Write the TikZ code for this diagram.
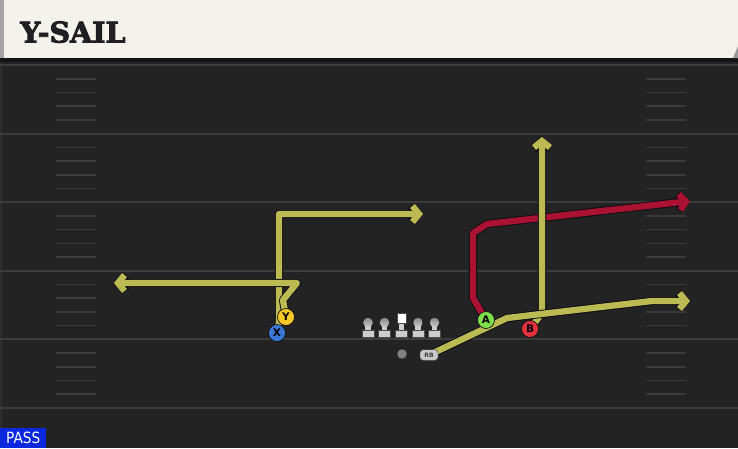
\documentclass[tikz,border=0pt]{standalone}
\usepackage{fontspec}
\setmainfont{DejaVuSans.ttf}[BoldFont=DejaVuSans-Bold.ttf]
\newfontfamily\titlefont{DejaVuSerif-Bold.ttf}[FakeBold=3]
\newfontfamily\passfont{DejaVuSans.ttf}[FakeStretch=0.88]
\newfontfamily\btnfont{DejaVuSans-Bold.ttf}
\usetikzlibrary{arrows.meta}
\pgfdeclarelayer{field}
\pgfdeclarelayer{routes}
\pgfsetlayers{field,routes,main}
\definecolor{fieldbg}{RGB}{35,35,35}
\definecolor{yardline}{RGB}{60,60,60}
\definecolor{hashcol}{RGB}{58,58,58}
\definecolor{headerbg}{RGB}{244,242,236}
\definecolor{headerstrip}{RGB}{165,165,165}
\definecolor{headerband}{RGB}{20,20,20}
\definecolor{routey}{RGB}{188,186,82}
\definecolor{router}{RGB}{170,18,50}
\definecolor{routeedge}{RGB}{12,12,18}
\definecolor{btnY}{RGB}{246,200,40}
\definecolor{btnX}{RGB}{58,120,215}
\definecolor{btnA}{RGB}{125,222,75}
\definecolor{btnB}{RGB}{225,50,60}
\definecolor{passblue}{RGB}{12,40,222}
\definecolor{linegray}{RGB}{205,205,205}
\definecolor{headgray}{RGB}{135,135,135}
\begin{document}
\begin{tikzpicture}[x=1pt,y=-1pt,
  route/.style={line width=6.3pt, line join=round,
    preaction={draw=routeedge, line width=8.1pt, line join=round}},
  tip/.style={-{Straight Barb[length=6.5pt,width=16pt]}},
  btn/.style={circle, draw=routeedge, line width=0.7pt, minimum size=17pt,
    inner sep=0pt, font=\btnfont\fontsize{10.5}{10.5}\selectfont, text=black},
  lbase/.style={rectangle, fill=linegray, draw=black!70, line width=0.3pt,
    minimum width=12pt, minimum height=7pt, inner sep=0pt},
  lhead/.style={circle, top color=headgray, bottom color=linegray,
    minimum size=9.5pt, inner sep=0pt},
  lstem/.style={draw=linegray, line width=5.5pt},
  yard/.style={draw=yardline, line width=2pt},
  hash/.style={draw=hashcol, line width=1.6pt}]
\useasboundingbox (0,0) rectangle (738,448);

\begin{pgfonlayer}{field}
  % field
  \fill[fieldbg] (0,58) rectangle (738,448);
  \fill[black!82] (0,58) rectangle (2,448);
  % header
  \fill[headerbg] (0,0) rectangle (738,58);
  \fill[headerstrip] (0,0) rectangle (4,58);
  \fill[headerband] (0,58) rectangle (738,62);
  \fill[black!40] (738,46) -- (738,58) -- (733,58) -- cycle;
  % yard lines
  \foreach \k in {0,...,5} {
    \draw[yard] (0,{65+68.6*\k}) -- (738,{65+68.6*\k});
  }
  % hash marks
  \foreach \k in {0,...,4} {
    \foreach \j in {1,...,4} {
      \draw[hash] (56,{65+68.6*\k+13.72*\j}) -- (96,{65+68.6*\k+13.72*\j});
      \draw[hash] (646,{65+68.6*\k+13.72*\j}) -- (686,{65+68.6*\k+13.72*\j});
    }
  }
\end{pgfonlayer}

% title and label
\node[anchor=base west, inner sep=0pt, text=black!88,
  font=\titlefont\fontsize{28.5}{28.5}\selectfont] (title) at (20,42.5) {Y-SAIL};
\node[anchor=south west, fill=passblue, text=white, inner sep=0pt,
  minimum width=46pt, minimum height=20pt,
  font=\passfont\fontsize{15.5}{15.5}\selectfont] (pass) at (0,448) {PASS};

% skill players
\node[btn, fill=btnX] (X) at (277,333) {X};
\node[btn, fill=btnY] (Y) at (286,317) {Y};
\node[btn, fill=btnA] (A) at (486,320) {A};
\node[btn, fill=btnB] (B) at (530,329) {B};

% offensive line
\foreach \n/\x in {L1/368,L2/384.5,L4/418,L5/434.5} {
  \node[lbase] (\n) at (\x,334) {};
  \node[lhead] (\n h) at (\x,322.5) {};
}
\node[lbase] (C) at (401.5,334) {};
\node[rectangle, fill=white, draw=black!70, line width=0.3pt,
  minimum size=9.5pt, inner sep=0pt] (Ch) at (401.5,318) {};

% backfield
\node[circle, fill=black!50, minimum size=9.5pt, inner sep=0pt] (QB) at (402,354) {};
\node[rectangle, rounded corners=3pt, fill=black!22, draw=black!75,
  line width=0.4pt, minimum width=18pt, minimum height=10.5pt, inner sep=0pt,
  text=black!75, font=\btnfont\fontsize{6}{6}\selectfont] (RB) at (429,355) {RB};

\begin{pgfonlayer}{routes}
  \foreach \n in {L1,L2,C,L4,L5} {
    \draw[lstem] (\n h.center) -- (\n.center);
  }
  % X route
  \draw[route, draw=routey, tip] (X.center) -- (279,322) -- (279,214) -- (423,214);
  % Y route
  \draw[route, draw=routey, tip] (Y.center) -- (283,300) -- (297,283) -- (114,283);
  % A route
  \draw[route, draw=router, tip] (A.center) -- (473,298) -- (473,233)
    -- (487,224) -- (690,201);
  % B route
  \draw[route, draw=routey, tip] (B.center) -- (542,313) -- (542,137);
  % RB route
  \draw[route, draw=routey, tip] (RB.center) -- (507,318) -- (652,301) -- (690,301);
\end{pgfonlayer}
\end{tikzpicture}
\end{document}
